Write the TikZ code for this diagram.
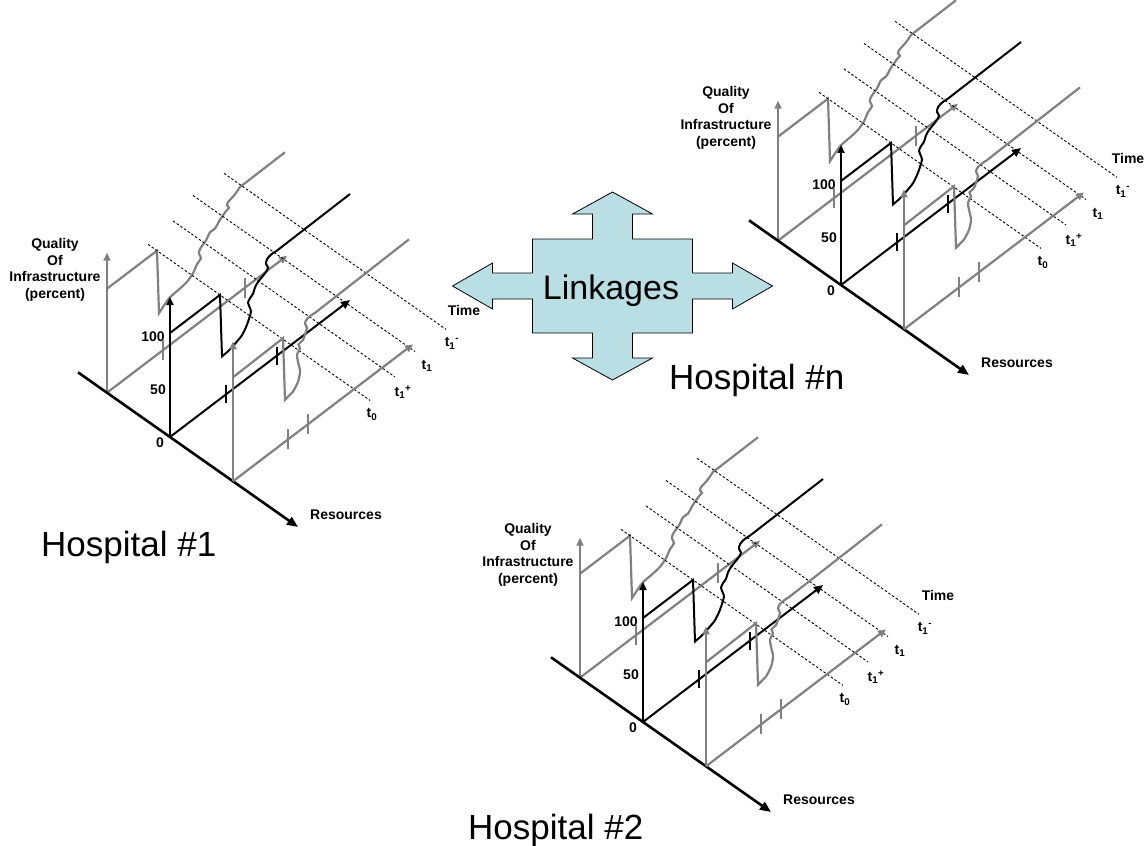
\documentclass[tikz,border=0pt]{standalone}
\usepackage{fontspec}
\setmainfont{Liberation Sans}
\usetikzlibrary{arrows.meta}
\definecolor{axgray}{RGB}{128,128,128}
\definecolor{linkblue}{RGB}{185,223,228}

\begin{document}
\begin{tikzpicture}[x=1pt, y=-1pt,
  lab/.style={font=\fontsize{14}{16.5}\selectfont\bfseries, inner sep=0pt, align=center},
  bigtxt/.style={font=\fontsize{35}{40}\selectfont, inner sep=0pt},
  resaxis/.style={line width=2.6pt, -{Triangle[length=11pt,width=9pt]}},
  qualaxis/.style={line width=2.4pt, -{Triangle[length=8pt,width=7pt]}},
  timeaxis/.style={line width=2pt, -{Triangle[length=9pt,width=8pt]}},
  blkline/.style={line width=2pt},
  gryline/.style={axgray, line width=2.2pt},
  gryaxis/.style={gryline, -{Triangle[length=8pt,width=7pt]}},
  dotline/.style={line width=0.9pt, dash pattern=on 2.5pt off 2pt}]
\useasboundingbox (0,0) rectangle (1147,845);

% the four-way arrow in the middle
\begin{scope}[shift={(612.5,286)}]
\draw[fill=linkblue, line width=0.8pt] (0,-94) -- (40,-72) -- (20,-72) -- (20,-47) -- (80,-47) -- (80,-13)
  -- (120,-13) -- (120,-23) -- (160,0) -- (120,23) -- (120,13) -- (80,13) -- (80,47) -- (20,47)
  -- (20,72) -- (40,72) -- (0,94) -- (-40,72) -- (-20,72) -- (-20,47) -- (-80,47) -- (-80,13)
  -- (-120,13) -- (-120,23) -- (-160,0) -- (-120,-23) -- (-120,-13) -- (-80,-13) -- (-80,-47)
  -- (-20,-47) -- (-20,-72) -- (-40,-72) -- cycle;
\end{scope}
\node[font=\fontsize{34}{40}\selectfont, inner sep=0pt, anchor=base] (link) at (611,299) {Linkages};

\node[bigtxt, anchor=base west] (hosp1) at (41,556) {Hospital \#1};
\node[bigtxt, anchor=base west] (hospn) at (669,389) {Hospital \#n};
\node[bigtxt, anchor=base west] (hosp2) at (468,839) {Hospital \#2};

\foreach \ox/\oy/\tx/\hn in {170/437/294/1, 841/285/287/n, 643/722/295/2} {
\begin{scope}[shift={(\ox,\oy)}]
\node[lab] (qual\hn) at (-115,-167) {Quality\\Of\\Infrastructure\\(percent)};
\node[lab] (hund\hn) at (-17,-100) {100};
\node[lab] (fifty\hn) at (-12,-47) {50};
\node[lab] (zero\hn) at (-10,6) {0};
\node[lab] (time\hn) at (\tx,-127) {Time};
\node[lab] (res\hn) at (176,78) {Resources};

% (resources, time, quality)
\begin{scope}[x={(1pt,-0.703pt)}, y={(1pt,0.761pt)}, z={(0pt,1pt)}]
% back plane
\draw[gryaxis] (-63,0,0) -- (-63,0,140);
\draw[gryaxis] (-63,0,0) -- (-63,180,0);
\foreach \tm in {56,138} \draw[gryline] (-63,\tm,-10) -- (-63,\tm,10);
\draw[gryline] (-63,0,104) -- (-63,50,104) -- (-63,52,40) -- plot[smooth, tension=.5] coordinates {
  (-63,57,44) (-63,63,47.5) (-63,72,48.5) (-63,80,50) (-63,86,54) (-63,90,60) (-63,94,63)
  (-63,92,69) (-63,93,73) (-63,99,77) (-63,103,82) (-63,108,82) (-63,113,87) (-63,119,91)
  (-63,122,92) (-63,120,96) (-63,121,98.5) (-63,124,99.5) (-63,128,101) (-63,133,104.5)}
  -- (-63,178,105);

% dotted time lines
\foreach \tm/\ra/\rb/\dx/\tl in {50/-72/150/2/{t\textsubscript{0}}, 78/-75/147/8/{t\textsubscript{1}\textsuperscript{+}},
    105/-82/140/12/{t\textsubscript{1}}, 135/-81/141/6/{t\textsubscript{1}\textsuperscript{-}}}
  \draw[dotline] (\ra,\tm,104) -- (\rb,\tm,104) node[lab, anchor=north, xshift=\dx pt, yshift=-8pt] (tl\hn-\tm) {\tl};

% resources axis
\draw[resaxis] (-92,0,0) -- (128,0,0);

% middle plane
\draw[qualaxis] (0,0,0) -- (0,0,140);
\draw[timeaxis] (0,0,0) -- (0,180,0);
\foreach \tm in {56,107} \draw[blkline, line width=2.2pt] (0,\tm,-9) -- (0,\tm,9);
\draw[blkline] (0,0,104) -- (0,50,104) -- (0,52,41) -- plot[smooth, tension=.5] coordinates {
  (0,58,41.5) (0,63,43) (0,68,45) (0,72,47) (0,76,52) (0,79,58) (0,81,64) (0,79,71) (0,78,75)
  (0,80,78) (0,83,80) (0,85,85) (0,88,88) (0,92,90) (0,96,92) (0,98,95) (0,96,100) (0,97,104)
  (0,101,105.5) (0,107,105)}
  -- (0,180,106);

% front plane
\draw[gryaxis] (63,0,0) -- (63,0,140);
\draw[gryaxis] (63,0,0) -- (63,180,0);
\foreach \tm in {55,75} \draw[gryline] (63,\tm,-10) -- (63,\tm,10);
\draw[gryline] (63,0,104) -- (63,50,105) -- (63,52,42) -- plot[smooth, tension=.5] coordinates {
  (63,60,44) (63,65,50) (63,67,59) (63,65,70) (63,64,78) (63,67,82) (63,65.5,87) (63,70,88)
  (63,72,92) (63,74,97) (63,72,103) (63,74,106) (63,79,106.5) (63,82,106)}
  -- (63,176,108);
\end{scope}
\end{scope}
}
\end{tikzpicture}
\end{document}
